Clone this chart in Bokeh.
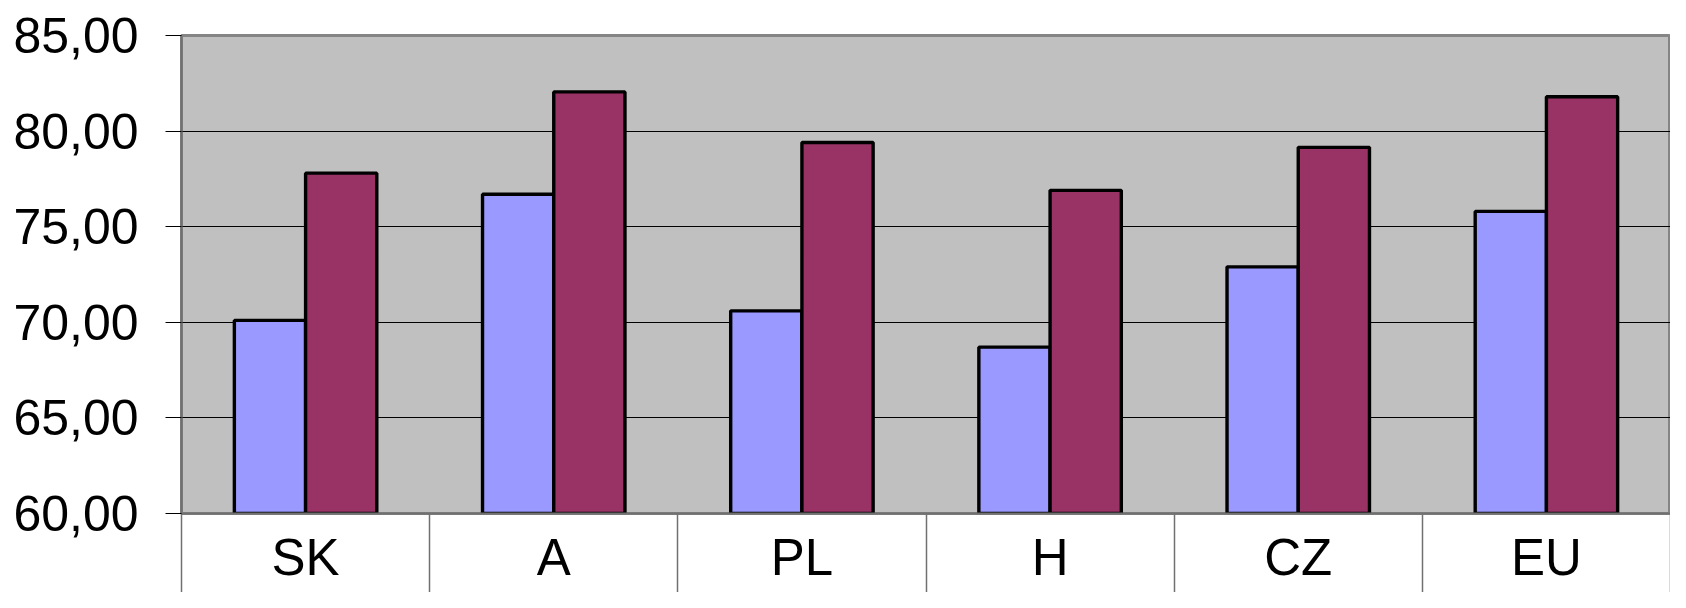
from bokeh.plotting import figure
from bokeh.models import FixedTicker, Range1d, ColumnDataSource
from bokeh.transform import dodge
from bokeh.embed import file_html
from bokeh.resources import INLINE

categories = ["SK", "A", "PL", "H", "CZ", "EU"]
series_1 = [70.1, 76.7, 70.6, 68.7, 72.9, 75.8]
series_2 = [77.8, 82.05, 79.4, 76.9, 79.15, 81.8]
y_ticks = [60, 65, 70, 75, 80, 85]
y_tick_labels = ["60,00", "65,00", "70,00", "75,00", "80,00", "85,00"]

x_pos = list(range(len(categories)))
source = ColumnDataSource(dict(x=x_pos, s1=series_1, s2=series_2))

p = figure(width=1670, height=592,
           x_range=Range1d(-0.5, len(categories) - 0.5),
           y_range=Range1d(y_ticks[0], y_ticks[-1]),
           output_backend="svg", toolbar_location=None)
p.min_border = 0
p.min_border_left = 181
p.min_border_right = 0
p.min_border_top = 35
p.min_border_bottom = 79

p.background_fill_color = "#C0C0C0"
p.border_fill_color = "white"
p.outline_line_color = "#858585"
p.outline_line_width = 3

bw = 0.287
p.vbar(x=dodge("x", -bw / 2, range=p.x_range), top="s1", bottom=y_ticks[0], width=bw,
       source=source, fill_color="#9999FF", line_color="black", line_width=3.4)
p.vbar(x=dodge("x", bw / 2, range=p.x_range), top="s2", bottom=y_ticks[0], width=bw,
       source=source, fill_color="#993366", line_color="black", line_width=3.4)

# grid
p.xgrid.visible = False
p.ygrid.ticker = FixedTicker(ticks=y_ticks)
p.ygrid.grid_line_color = "black"
p.ygrid.grid_line_width = 1
p.ygrid.level = "underlay"

# y axis
ya = p.yaxis[0]
ya.ticker = FixedTicker(ticks=y_ticks)
ya.major_label_overrides = {t: l for t, l in zip(y_ticks, y_tick_labels)}
ya.major_tick_out = 16
ya.major_tick_in = 0
ya.major_tick_line_color = "black"
ya.minor_tick_line_color = None
ya.axis_line_color = "#707070"
ya.axis_line_width = 2
ya.major_label_standoff = 27
ya.major_label_text_font = "Liberation Sans"
ya.major_label_text_font_size = "50px"
ya.major_label_text_color = "black"

# x axis
xa = p.xaxis[0]
xa.ticker = FixedTicker(ticks=x_pos, minor_ticks=[i - 0.5 for i in range(len(categories) + 1)])
xa.major_label_overrides = {i: c for i, c in enumerate(categories)}
xa.major_tick_line_color = None
xa.minor_tick_out = 79
xa.minor_tick_in = 0
xa.minor_tick_line_color = "#707070"
xa.minor_tick_line_width = 1.5
xa.axis_line_color = "#707070"
xa.axis_line_width = 2
xa.major_label_standoff = -64
xa.major_label_text_font = "Liberation Sans"
xa.major_label_text_font_size = "51px"
xa.major_label_text_color = "black"

open("out.html", "w").write(file_html(p, INLINE))
